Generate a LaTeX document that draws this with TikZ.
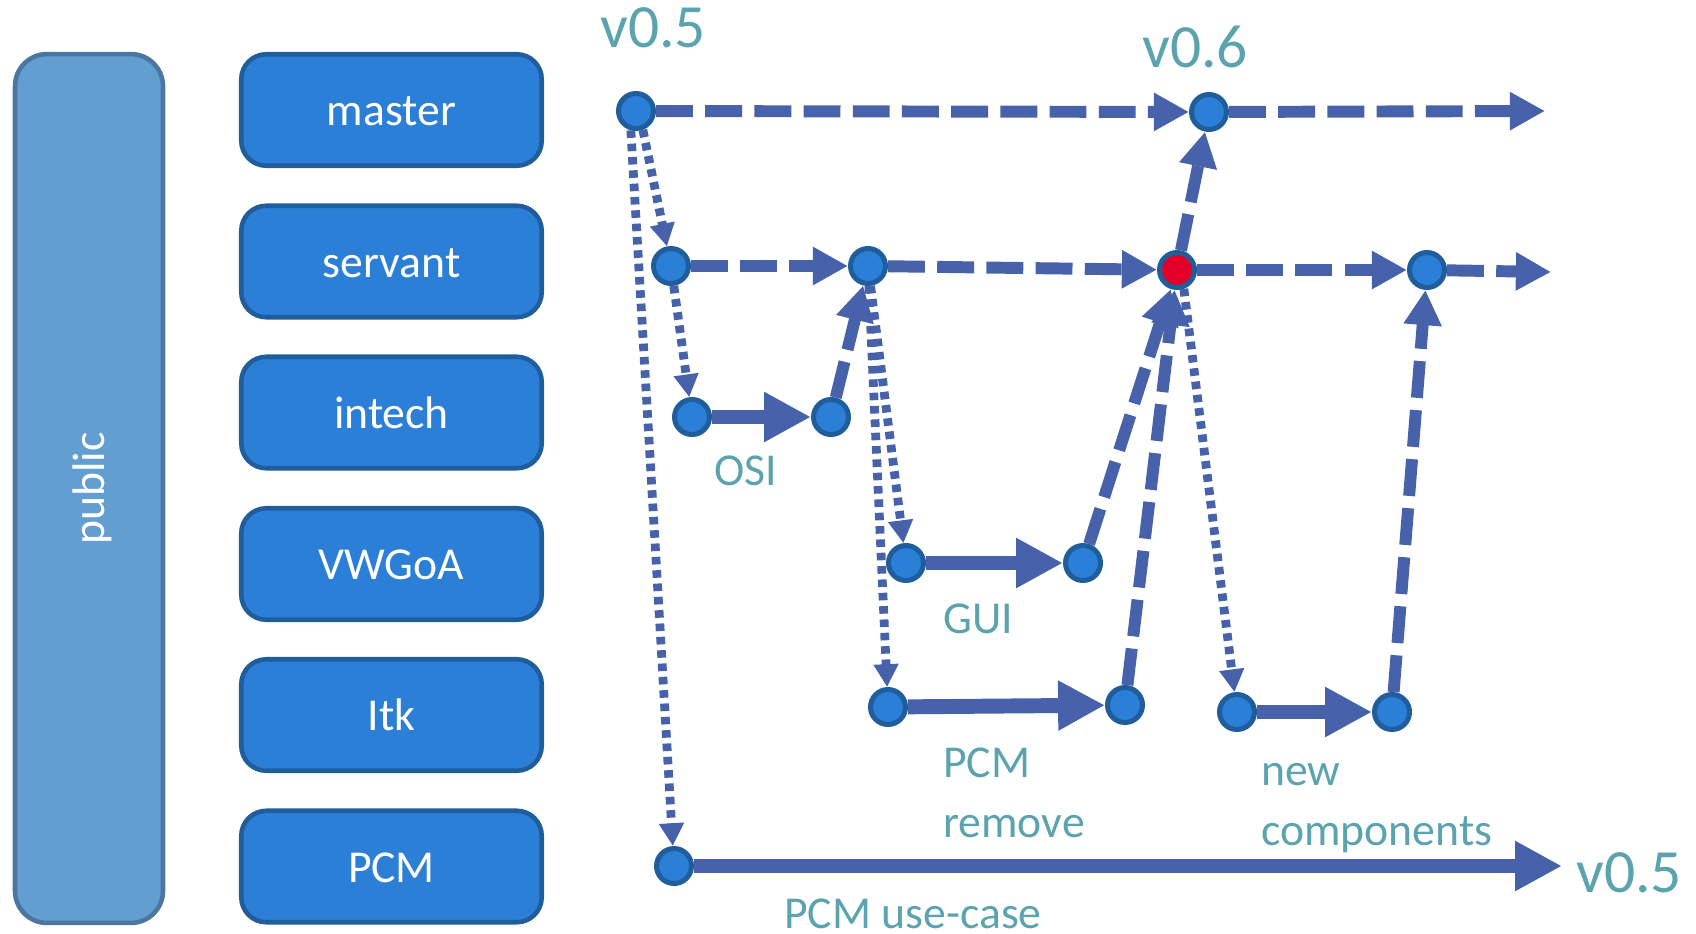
\documentclass[tikz,border=0pt]{standalone}
\usepackage{fontspec}
\setmainfont{Carlito}
\usepackage{tikz}
\usetikzlibrary{arrows.meta}
\definecolor{laneblue}{RGB}{44,127,214}
\definecolor{laneedge}{RGB}{31,93,156}
\definecolor{pubblue}{RGB}{99,158,209}
\definecolor{pubedge}{RGB}{74,118,160}
\definecolor{flow}{RGB}{71,98,170}
\definecolor{tagteal}{RGB}{91,163,174}
\definecolor{mergered}{RGB}{226,0,40}
\tikzset{
lane/.style = { rectangle, draw = laneedge, fill = laneblue, line width = 2.6pt, rounded corners = 0.5cm, minimum width = 6.01cm, minimum height = 2.23cm, text = white, font = \fontsize{26}{31}\selectfont, text height = 18.2pt, text depth = 0pt },
pubpanel/.style = { lane, draw = pubedge, fill = pubblue, rounded corners = 0.64cm, minimum width = 17.38cm, minimum height = 2.96cm },
commit/.style = { circle, draw = laneedge, fill = laneblue, line width = 2.85pt, minimum size = 0.7cm, inner sep = 0pt },
tag/.style = { text = tagteal, inner sep = 0pt, anchor = base west, align = left, font = \fontsize{26}{33.6}\selectfont },
version/.style = { tag, font = \fontsize{35}{42}\selectfont },
}
\tikzset{
flowdash/.style = { draw = flow, line width = 6.8pt, dash pattern = on 21pt off 7pt, -{Triangle[length = 20pt, width = 20.5pt]} },
flowwork/.style = { draw = flow, line width = 8.5pt, solid, -{Triangle[length = 26.7pt, width = 26.7pt]} },
flowdot/.style = { draw = flow, line width = 5pt, dash pattern = on 4.3pt off 3.3pt, -{Triangle[length = 13pt, width = 13.5pt]} },
}
\begin{document}
\begin{tikzpicture}[x=0.02cm, y=-0.02cm]
      \useasboundingbox (0,0) rectangle (1696,933);
      % branches on the left
      \node[pubpanel, rotate=90] (pub) at (89,488.5) {public};
      \begin{scope}[every node/.style={lane}]
        \node (bmaster) at (391.5,110) {master};
        \node (bservant) at (391.5,261.5) {servant};
        \node (bintech) at (391.5,412.5) {intech};
        \node (bvwgoa) at (391.5,564) {VWGoA};
        \node (bitk) at (391.5,715) {Itk};
        \node (bpcm) at (391.5,866.5) {PCM};
      \end{scope}
      % commits
      \begin{scope}[every node/.style={commit}]
        \node (m05) at (636,111) {};
        \node (m06) at (1209,112) {};
        \node (s1) at (671,266) {};
        \node (s2) at (868,266) {};
        \node[fill=mergered] (s3) at (1177,270) {};
        \node (s4) at (1427,270) {};
        \node (i1) at (692,417) {};
        \node (i2) at (831,417) {};
        \node (g1) at (906,563) {};
        \node (g2) at (1083,563) {};
        \node (t1) at (888,707) {};
        \node (t2) at (1125,705) {};
        \node (n1) at (1237,712) {};
        \node (n2) at (1392,712) {};
        \node (p1) at (674,866) {};
      \end{scope}
      \coordinate (mend) at (1545,111);
      \coordinate (send) at (1551,272);
      \coordinate (pend) at (1562,866);
      % history
      \begin{scope}[every edge/.style={draw=flow}]
        \path (m05) edge[flowdash] (m06);
        \path (m06) edge[flowdash] (mend);
        \path (s1) edge[flowdash] (s2);
        \path (s2) edge[flowdash] (s3);
        \path (s3) edge[flowdash] (s4);
        \path (s4) edge[flowdash] (send);
        \path (i2) edge[flowdash] (s2);
        \path (g2) edge[flowdash] (s3);
        \path (t2) edge[flowdash] (s3);
        \path (s3) edge[flowdash] (m06);
        \path (n2) edge[flowdash] (s4);
        \path (i1) edge[flowwork] (i2);
        \path (g1) edge[flowwork] (g2);
        \path (t1) edge[flowwork] (t2);
        \path (n1) edge[flowwork] (n2);
        \path (p1) edge[flowwork] (pend);
        \path (m05.290) edge[flowdot] (s1);
        \path (m05.255) edge[flowdot] (p1);
        \path (s1) edge[flowdot] (i1);
        \path (s2) edge[flowdot] (g1);
        \path (s2) edge[flowdot] (t1);
        \path (s3.-70) edge[flowdot] (n1);
      \end{scope}
      % labels
      \node[version] (v05) at (600,47) {v0.5};
      \node[version] (v06) at (1142,67) {v0.6};
      \node[version] (v05b) at (1576,892) {v0.5};
      \node[tag] (losi) at (714,485) {OSI};
      \node[tag] (lgui) at (943,633) {GUI};
      \node[tag] (lrem) at (943,837) {PCM\\remove};
      \node[tag] (lnew) at (1261,845) {new\\components};
      \node[tag] (luse) at (784,928) {PCM use-case};
\end{tikzpicture}
\end{document}
